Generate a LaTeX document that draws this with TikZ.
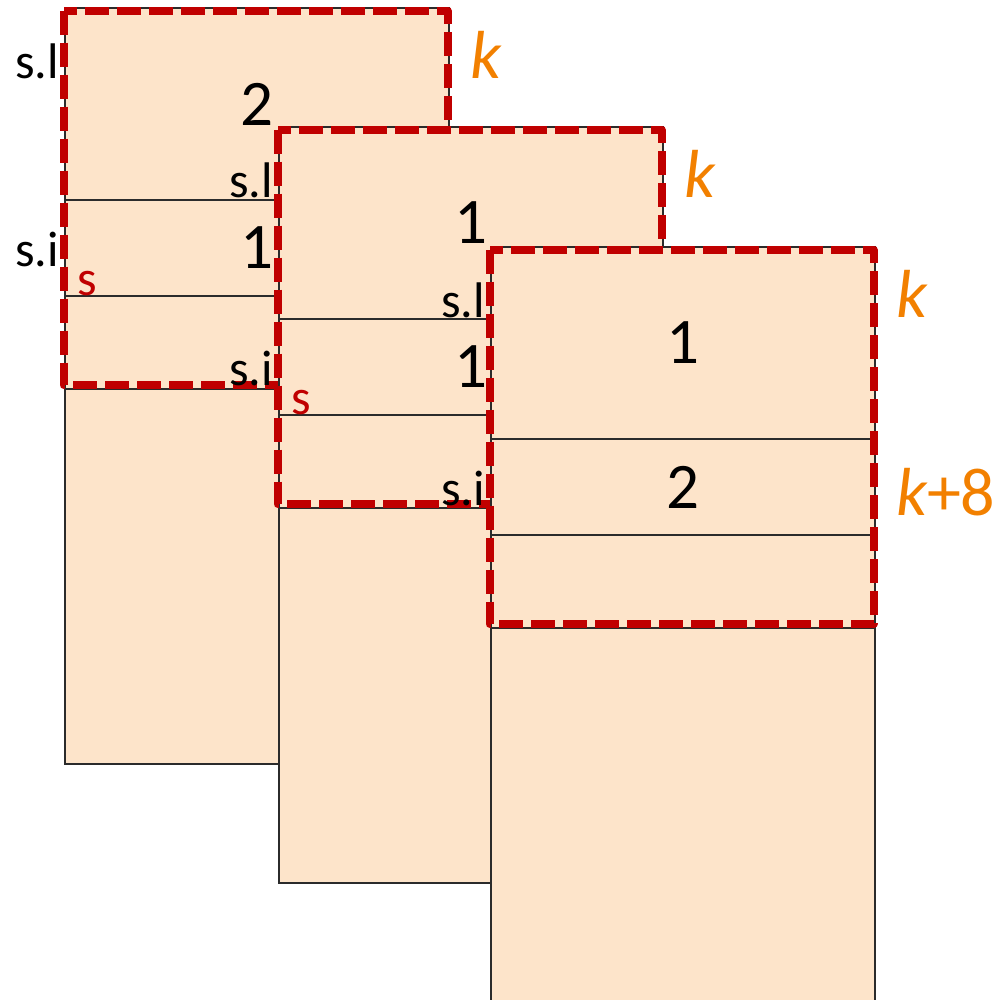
\documentclass[tikz,border=0pt]{standalone}
\usepackage{fontspec}
\setmainfont{Carlito}

\definecolor{cellfill}{RGB}{253,228,202}
\definecolor{gridline}{RGB}{43,43,43}
\definecolor{framered}{RGB}{192,0,0}
\definecolor{idxorange}{RGB}{242,128,0}

\tikzset{
  column/.style={fill=cellfill, draw=gridline, line width=2pt},
  divider/.style={draw=gridline, line width=2pt},
  window/.style={draw=framered, line width=8pt, line join=round,
                 dash pattern=on 24pt off 8pt},
  digit/.style={font=\fontsize{65}{65}\selectfont, inner sep=0pt},
  field/.style={font=\fontsize{50}{50}\selectfont, inner sep=0pt, anchor=base east},
  startmark/.style={font=\fontsize{50}{50}\selectfont, text=framered,
                    inner sep=0pt, anchor=base west},
  offsetlbl/.style={font=\fontsize{68}{68}\selectfont, text=idxorange,
                    inner sep=0pt, anchor=base west},
}

% One memory column: #1 name, #2 top-left corner, #3/#4 digits of the two
% upper cells, #5 extra material drawn inside the column's scope
\newcommand\memcolumn[5]{%
  \begin{scope}[shift={#2}]
    \path[column] (0,0) rectangle (384,756);
    \draw[divider] (0,192) -- (384,192);
    \draw[divider] (0,288) -- (384,288);
    \draw[divider] (0,381) -- (384,381);
    \draw[window] (-1.5,2.5) rectangle (382.5,377);
    \node[digit] (#1-a) at (192,96) {#3};
    \node[digit] (#1-b) at (192,240) {#4};
    \node[field] (#1-l) at (-6,70) {s.l};
    \node[field] (#1-i) at (-6,258) {s.i};
    \node[offsetlbl] (#1-k) at (405,70) {\itshape k};
    #5
  \end{scope}}

\begin{document}
\begin{tikzpicture}[x=1pt,y=-1pt]
  \useasboundingbox (0,0) rectangle (1004,999);
  \clip (0,0) rectangle (1004,999);

  \memcolumn{c1}{(65,8)}{2}{1}{%
    \node[startmark] (c1-s) at (12,287) {s};}
  \memcolumn{c2}{(279,127)}{1}{1}{%
    \node[startmark] (c2-s) at (12,287) {s};}
  \memcolumn{c3}{(491,247)}{1}{2}{%
    \node[offsetlbl] (c3-k8) at (405,268) {{\itshape k}+8};}
\end{tikzpicture}
\end{document}
